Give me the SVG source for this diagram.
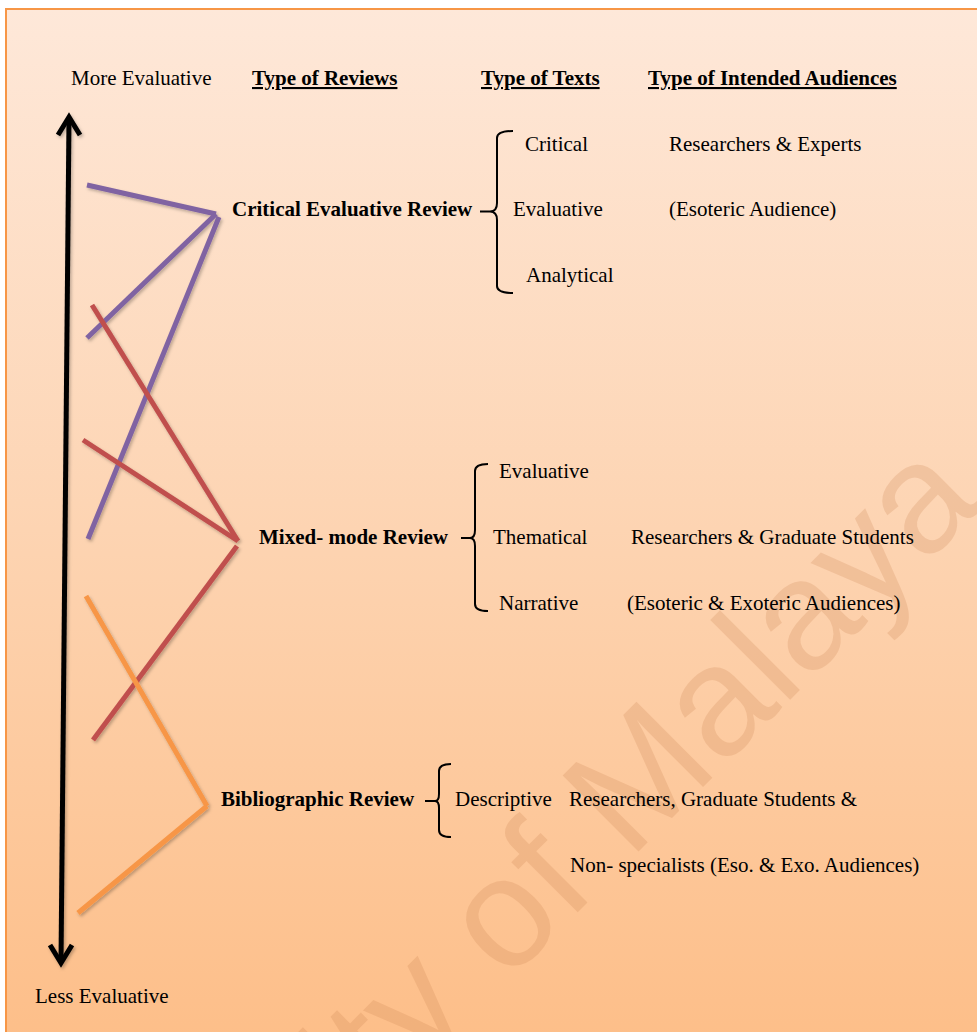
<svg xmlns="http://www.w3.org/2000/svg" width="977" height="1032" viewBox="0 0 977 1032">
  <defs>
    <linearGradient id="bg" x1="0" y1="0" x2="0" y2="1">
      <stop offset="0" stop-color="#FEE8D9"/>
      <stop offset="0.5" stop-color="#FDD4B2"/>
      <stop offset="1" stop-color="#FDBE88"/>
    </linearGradient>
    <filter id="shadow" x="-20%" y="-20%" width="140%" height="140%">
      <feDropShadow dx="1.5" dy="2" stdDeviation="1.5" flood-color="#000" flood-opacity="0.25"/>
    </filter>
  </defs>
  <style>
    text { font-family: "Liberation Serif", "Times New Roman", serif; font-size: 21px; font-weight: normal; fill: #000; }
    .b { font-weight: bold; }
    .u { text-decoration: underline; }
    .brace { fill: none; stroke: #000; stroke-width: 2; }
    .axis { fill: none; stroke: #000; stroke-width: 5; }
    .purple { stroke: #8064A2; stroke-width: 5; fill: none; }
    .red { stroke: #C0504D; stroke-width: 5; fill: none; }
    .orange { stroke: #F79646; stroke-width: 5; fill: none; }
    .wm { font-family: "Liberation Sans", Arial, sans-serif; font-size: 156px; fill: #C9804F; fill-opacity: 0.22; }
  </style>

  <!-- page background with framed panel -->
  <rect x="0" y="0" width="977" height="1032" fill="#FFFFFF"/>
  <rect x="6" y="9" width="985" height="1040" fill="url(#bg)" stroke="#F79646" stroke-width="2"/>

  <!-- faint watermark -->
  <text class="wm" transform="translate(985,505) rotate(-45)" text-anchor="end">University of Malaya</text>

  <!-- column headings -->
  <g id="headings">
    <text x="71" y="85">More Evaluative</text>
    <text class="b u" x="252" y="85">Type of Reviews</text>
    <text class="b u" x="481" y="85">Type of Texts</text>
    <text class="b u" x="648" y="85">Type of Intended Audiences</text>
  </g>

  <!-- evaluative scale axis -->
  <g id="axis" filter="url(#shadow)">
    <path class="axis" d="M69,119 L61,962"/>
    <path class="axis" d="M58,135 L69,117 L80,135"/>
    <path class="axis" d="M50,945 L61,963 L72,945"/>
  </g>
  <text id="less" x="35" y="1003">Less Evaluative</text>

  <!-- connectors from the scale to each review type -->
  <g id="connectors" filter="url(#shadow)">
    <line class="purple" x1="87" y1="185" x2="216" y2="214"/>
    <line class="purple" x1="216" y1="214" x2="87" y2="338"/>
    <line class="purple" x1="219" y1="217" x2="88" y2="539"/>
    <line class="red" x1="92" y1="305" x2="238" y2="541"/>
    <line class="red" x1="83" y1="440" x2="238" y2="541"/>
    <line class="red" x1="237" y1="546" x2="93" y2="740"/>
    <line class="orange" x1="86" y1="596" x2="207" y2="806"/>
    <line class="orange" x1="207" y1="806" x2="78" y2="913"/>
  </g>

  <!-- Critical Evaluative Review -->
  <g id="critical">
    <text class="b" x="232" y="216">Critical Evaluative Review</text>
    <path class="brace" d="M480,211.5 L490,211.5 M513,131 Q497,131 497,138 L497,203 Q497,211.5 490,211.5 Q497,211.5 497,220 L497,286 Q497,293 513,293"/>
    <text x="525" y="151">Critical</text>
    <text x="513" y="216">Evaluative</text>
    <text x="526" y="282">Analytical</text>
    <text x="669" y="151">Researchers &amp; Experts</text>
    <text x="669" y="216">(Esoteric Audience)</text>
  </g>

  <!-- Mixed-mode Review -->
  <g id="mixed">
    <text class="b" x="259" y="544">Mixed- mode Review</text>
    <path class="brace" d="M461,538 L470,538 M488,464 Q475,464 475,471 L475,530 Q475,538 470,538 Q475,538 475,546 L475,604 Q475,611 488,611"/>
    <text x="499" y="478">Evaluative</text>
    <text x="493" y="544">Thematical</text>
    <text x="499" y="610">Narrative</text>
    <text x="631" y="544">Researchers &amp; Graduate Students</text>
    <text x="627" y="610">(Esoteric &amp; Exoteric Audiences)</text>
  </g>

  <!-- Bibliographic Review -->
  <g id="bibliographic">
    <text class="b" x="221" y="806">Bibliographic Review</text>
    <path class="brace" d="M425,801 L435,801 M451,764 Q439,764 439,771 L439,794 Q439,801 435,801 Q439,801 439,808 L439,830 Q439,837 451,837"/>
    <text x="455" y="806">Descriptive</text>
    <text x="569" y="806">Researchers, Graduate Students &amp;</text>
    <text x="570" y="872">Non- specialists (Eso. &amp; Exo. Audiences)</text>
  </g>
</svg>
